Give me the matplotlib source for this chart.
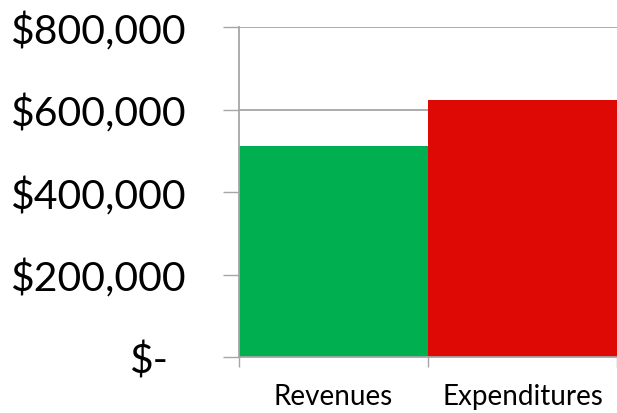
import matplotlib
matplotlib.use("Agg")
import matplotlib.pyplot as plt
import matplotlib.transforms as mtransforms
import numpy as np

categories = ["Revenues", "Expenditures"]
values = [512000, 623000]
bar_colors = ["#00B050", "#DE0804"]
yticks = [0, 200000, 400000, 600000, 800000]
ytick_labels = ["$-", "$200,000", "$400,000", "$600,000", "$800,000"]

plt.rcParams['font.family'] = ['Lato', 'DejaVu Sans']
fig = plt.figure(figsize=(6.17, 4.14), dpi=100)
ax = fig.add_axes([239/617, 1-358/414, 1-239/617, (358-28)/414])

x = np.arange(len(categories))
ax.bar(x, values, width=1.0, color=bar_colors, zorder=2)
ax.set_xlim(-0.5, len(categories) - 0.5)
ax.set_ylim(0, 800000)

grid_c = "#A6A6A6"
ax.set_yticks(yticks)
ax.set_yticklabels(ytick_labels, fontsize=29.5, color="#000000")
ax.yaxis.grid(True, color=grid_c, linewidth=1.3, zorder=0)
ax.set_axisbelow(True)
ax.tick_params(axis='y', length=11.5, width=1.0, color=grid_c, pad=27)

ax.set_xticks(x)
ax.set_xticklabels(categories, fontsize=20, color="#000000")
ax.tick_params(axis='x', which='major', length=0, pad=18.5)
ax.set_xticks(np.arange(len(categories) + 1) - 0.5, minor=True)
ax.tick_params(axis='x', which='minor', length=7.5, width=1.0, color=grid_c)

for s in ["top", "right"]:
    ax.spines[s].set_visible(False)
ax.spines["left"].set_color(grid_c)
ax.spines["left"].set_linewidth(1.3)
ax.spines["bottom"].set_color(grid_c)
ax.spines["bottom"].set_linewidth(1.3)

# shift the "$-" label (accounting-format alignment)
lbl = ax.get_yticklabels()[0]
lbl.set_transform(lbl.get_transform() + mtransforms.ScaledTranslation(-13/72, 0, fig.dpi_scale_trans))

fig.savefig("out.png", dpi=100)
